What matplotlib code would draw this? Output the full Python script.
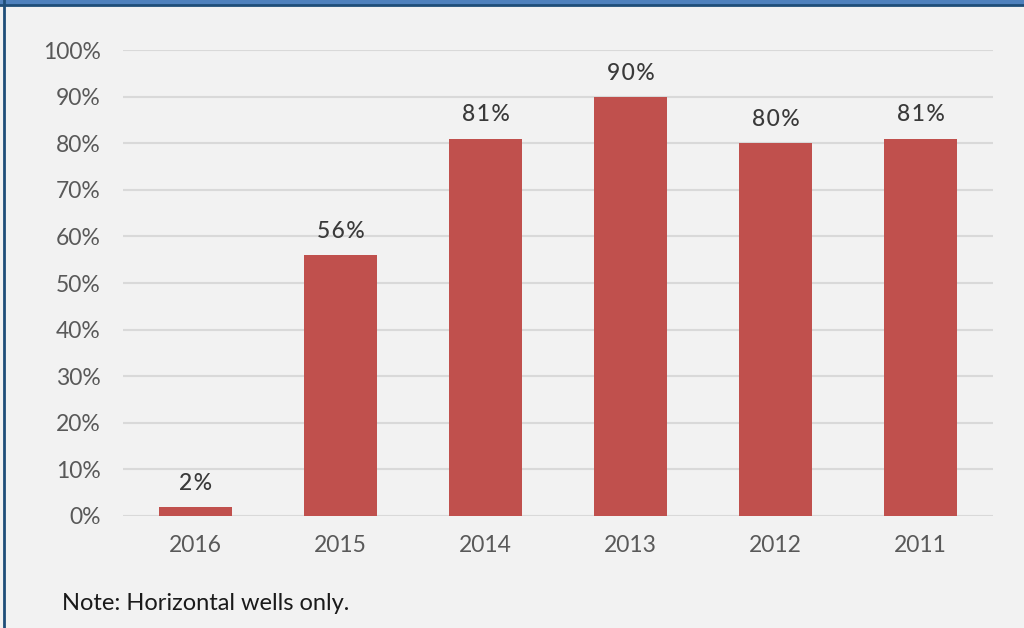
import matplotlib.pyplot as plt
from matplotlib.patches import Rectangle
from matplotlib.lines import Line2D

years = ["2016", "2015", "2014", "2013", "2012", "2011"]
shares = [2, 56, 81, 90, 80, 81]
labels = ["2%", "56%", "81%", "90%", "80%", "81%"]
yticks = [0, 10, 20, 30, 40, 50, 60, 70, 80, 90, 100]

plt.rcParams["font.family"] = ["Lato", "DejaVu Sans"]

fig = plt.figure(figsize=(10.24, 6.28), dpi=100, facecolor="#f2f2f2")
ax = fig.add_axes([123 / 1024, 1 - 516 / 628, 870 / 1024, 466 / 628])
ax.set_facecolor("#f2f2f2")

x = range(len(years))
ax.bar(x, shares, width=0.5, color="#c0504d", zorder=3)
for xi, v, lab in zip(x, shares, labels):
    # data labels are letter-spaced in the original
    spaced = "\u200a".join(lab)
    ax.text(xi, v + 2.8, spaced, ha="center", va="bottom", fontsize=16.5,
            color="#3a3a3a", fontweight="medium")

ax.set_xlim(-0.5, len(years) - 0.5)
ax.set_ylim(0, 100)
ax.set_yticks(yticks)
ax.set_yticklabels([f"{t}%" for t in yticks])
ax.set_xticks(list(x))
ax.set_xticklabels(years)
ax.tick_params(axis="both", length=0, labelsize=16.5, labelcolor="#595959")
ax.tick_params(axis="y", pad=16)
ax.tick_params(axis="x", pad=14)
ax.grid(axis="y", color="#d9d9d9", linewidth=1.5, zorder=0)
for s in ax.spines.values():
    s.set_visible(False)

# top band and left border of the cropped panel
fig.patches.append(Rectangle((0, 1 - 4 / 628), 1, 4 / 628, transform=fig.transFigure,
                             color="#4f81bd", zorder=5))
fig.lines.append(Line2D([0, 1], [1 - 5 / 628] * 2, transform=fig.transFigure,
                        color="#1f4e79", linewidth=2, zorder=6))
fig.lines.append(Line2D([4 / 1024] * 2, [0, 1], transform=fig.transFigure,
                        color="#1f4e79", linewidth=2, zorder=6))

fig.text(62 / 1024, 1 - 604 / 628, "Note: Horizontal wells only.", fontsize=17,
         color="#1a1a1a", va="center")

fig.savefig("out.png", dpi=100, facecolor=fig.get_facecolor())
